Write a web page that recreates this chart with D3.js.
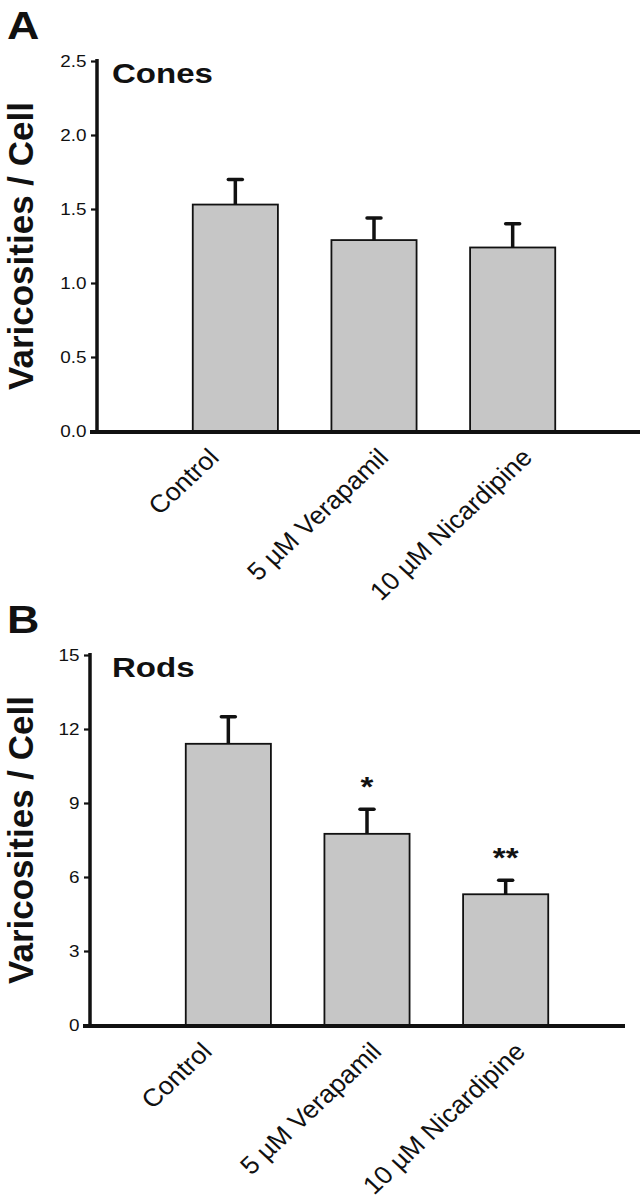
<!DOCTYPE html>
<html>
<head>
<meta charset="utf-8">
<script src="https://cdn.jsdelivr.net/npm/d3@7.9.0/dist/d3.min.js"></script>
<style>
  body { margin: 0; background: #fff; }
  svg { display: block; font-family: "Liberation Sans", Arial, sans-serif; }
</style>
</head>
<body>
<div id="chart"></div>
<script>
// values
const groups = ['Control', '5 \u00B5M Verapamil', '10 \u00B5M Nicardipine'];

const conesMean = [1.53, 1.29, 1.24];
const conesErr = [0.17, 0.15, 0.16];
const conesTicks = [0, 0.5, 1.0, 1.5, 2.0, 2.5];

const rodsMean = [11.4, 7.75, 5.3];
const rodsErr = [1.1, 1.0, 0.57];
const rodsTicks = [0, 3, 6, 9, 12, 15];
const rodsSig = ['', '*', '**'];

// layout
const width = 644;
const height = 1200;
const stretch = 1.18; // scanned type is a bit wider than Arial
const labelNudge = [-15, 16, 21];

const svg = d3.select('#chart')
  .append('svg')
  .attr('width', width)
  .attr('height', height);

function drawPanel(opts) {
  const { top, axisX, xEnd, letter, title, mean, err, ticks, fmt, sig } = opts;
  const plotTop = top + 61;
  const plotBottom = top + 431;

  const g = svg.append('g');

  const y = d3.scaleLinear()
    .domain([0, d3.max(ticks)])
    .range([plotBottom, plotTop]);

  const x = d3.scaleBand()
    .domain(groups)
    .range([axisX + 69, axisX + 485])
    .paddingInner(0.386)
    .paddingOuter(0.193);

  // bars
  g.selectAll('rect.bar')
    .data(groups)
    .join('rect')
    .attr('class', 'bar')
    .attr('x', d => x(d))
    .attr('y', (d, i) => y(mean[i]))
    .attr('width', x.bandwidth())
    .attr('height', (d, i) => y(0) - y(mean[i]))
    .attr('fill', '#c6c6c6')
    .attr('stroke', '#111')
    .attr('stroke-width', 1.8);

  // error bars (upper only)
  const eb = g.selectAll('g.err')
    .data(groups)
    .join('g')
    .attr('class', 'err');
  eb.append('line')
    .attr('x1', d => x(d) + x.bandwidth() / 2)
    .attr('x2', d => x(d) + x.bandwidth() / 2)
    .attr('y1', (d, i) => y(mean[i]))
    .attr('y2', (d, i) => y(mean[i] + err[i]))
    .attr('stroke', '#111')
    .attr('stroke-width', 3.5);
  eb.append('line')
    .attr('x1', d => x(d) + x.bandwidth() / 2 - 7)
    .attr('x2', d => x(d) + x.bandwidth() / 2 + 7)
    .attr('y1', (d, i) => y(mean[i] + err[i]))
    .attr('y2', (d, i) => y(mean[i] + err[i]))
    .attr('stroke', '#111')
    .attr('stroke-width', 3.5)
    .attr('stroke-linecap', 'round');

  // significance stars
  if (sig) {
    g.selectAll('text.sig')
      .data(groups)
      .join('text')
      .attr('class', 'sig')
      .attr('transform', (d, i) =>
        `translate(${x(d) + x.bandwidth() / 2},${y(mean[i] + err[i]) - 13}) scale(${stretch},1)`)
      .attr('text-anchor', 'middle')
      .attr('font-size', 28)
      .attr('font-weight', 'bold')
      .attr('fill', '#111')
      .text((d, i) => sig[i]);
  }

  // y axis
  const yAxis = g.append('g')
    .attr('transform', `translate(${axisX},0)`)
    .call(d3.axisLeft(y).tickValues(ticks).tickFormat(fmt).tickSize(6).tickSizeOuter(0).tickPadding(3));
  yAxis.select('.domain')
    .attr('stroke', '#111')
    .attr('stroke-width', 3.5)
    .attr('d', `M0,${plotTop - 2}V${plotBottom + 2}`);
  yAxis.selectAll('.tick line').attr('stroke', '#111').attr('stroke-width', 2.2);
  yAxis.selectAll('.tick text')
    .attr('font-size', 16)
    .attr('fill', '#111')
    .attr('font-family', '"Liberation Sans", Arial, sans-serif')
    .attr('transform', `scale(${stretch},1)`);

  // x axis line
  g.append('line')
    .attr('x1', axisX - 7)
    .attr('x2', xEnd)
    .attr('y1', y(0) + 1)
    .attr('y2', y(0) + 1)
    .attr('stroke', '#111')
    .attr('stroke-width', 4);

  // rotated category labels
  g.selectAll('text.cat')
    .data(groups)
    .join('text')
    .attr('class', 'cat')
    .attr('transform', (d, i) =>
      `translate(${x(d) + x.bandwidth() / 2 + labelNudge[i]},${y(0) + 28}) scale(1.07,1) rotate(-45)`)
    .attr('text-anchor', 'end')
    .attr('font-size', 25)
    .attr('fill', '#111')
    .text(d => d);

  // y title
  g.append('text')
    .attr('transform', `translate(33,${(plotTop + plotBottom) / 2}) rotate(-90)`)
    .attr('text-anchor', 'middle')
    .attr('font-size', 35)
    .attr('font-weight', 'bold')
    .attr('fill', '#111')
    .text('Varicosities / Cell');

  // panel title
  g.append('text')
    .attr('transform', `translate(112,${top + 83}) scale(${stretch},1)`)
    .attr('font-size', 28)
    .attr('font-weight', 'bold')
    .attr('fill', '#111')
    .text(title);

  // panel letter
  g.append('text')
    .attr('transform', `translate(7,${top + 39}) scale(${stretch},1)`)
    .attr('font-size', 38)
    .attr('font-weight', 'bold')
    .attr('fill', '#111')
    .text(letter);
}

drawPanel({
  top: 0, axisX: 97, xEnd: 640, letter: 'A', title: 'Cones',
  mean: conesMean, err: conesErr, ticks: conesTicks, fmt: d3.format('.1f')
});

drawPanel({
  top: 594, axisX: 90, xEnd: 625, letter: 'B', title: 'Rods',
  mean: rodsMean, err: rodsErr, ticks: rodsTicks, fmt: d3.format('d'), sig: rodsSig
});
</script>
</body>
</html>
